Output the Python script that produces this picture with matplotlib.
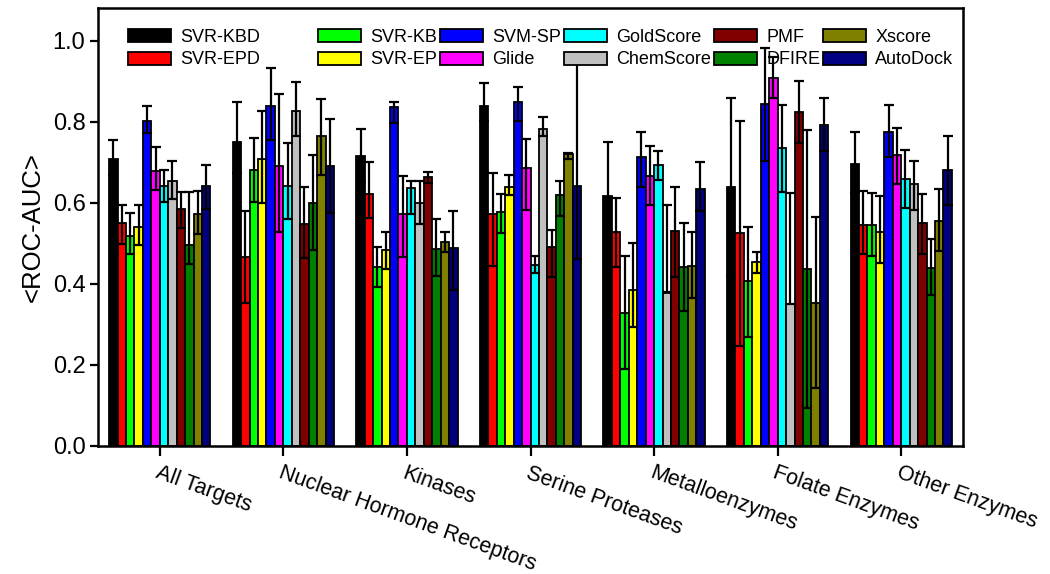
import numpy as np
import matplotlib
matplotlib.use("Agg")
import matplotlib.pyplot as plt
from matplotlib.patches import Patch

plt.rcParams['font.family'] = ['Liberation Sans', 'DejaVu Sans']

categories = ["All Targets", "Nuclear Hormone Receptors", "Kinases", "Serine Proteases",
              "Metalloenzymes", "Folate Enzymes", "Other Enzymes"]

series_names = ["SVR-KBD", "SVR-EPD", "SVR-KB", "SVR-EP", "SVM-SP", "Glide",
                "GoldScore", "ChemScore", "PMF", "DFIRE", "Xscore", "AutoDock"]
series_colors = ["#000000", "#FF0000", "#00FF00", "#FFFF00", "#0000FF", "#FF00FF",
                 "#00FFFF", "#C0C0C0", "#800000", "#008000", "#808000", "#000080"]

# bar values (mean ROC-AUC)
svr_kbd   = [0.709, 0.750, 0.716, 0.838, 0.616, 0.640, 0.696]
svr_epd   = [0.551, 0.466, 0.622, 0.573, 0.528, 0.525, 0.546]
svr_kb    = [0.519, 0.681, 0.441, 0.577, 0.328, 0.406, 0.546]
svr_ep    = [0.540, 0.708, 0.484, 0.638, 0.385, 0.455, 0.529]
svm_sp    = [0.803, 0.840, 0.836, 0.850, 0.713, 0.844, 0.776]
glide     = [0.679, 0.691, 0.572, 0.686, 0.667, 0.908, 0.719]
goldscore = [0.642, 0.642, 0.636, 0.447, 0.694, 0.735, 0.658]
chemscore = [0.655, 0.828, 0.599, 0.783, 0.378, 0.350, 0.647]
pmf       = [0.584, 0.547, 0.663, 0.492, 0.531, 0.825, 0.550]
dfire     = [0.495, 0.599, 0.486, 0.620, 0.443, 0.436, 0.439]
xscore    = [0.572, 0.764, 0.504, 0.720, 0.444, 0.354, 0.556]
autodock  = [0.642, 0.692, 0.488, 0.642, 0.634, 0.793, 0.681]

# error-bar lower ends
svr_kbd_lo   = [0.669, 0.673, 0.651, 0.801, 0.498, 0.420, 0.625]
svr_epd_lo   = [0.499, 0.352, 0.562, 0.445, 0.443, 0.248, 0.474]
svr_kb_lo    = [0.474, 0.601, 0.393, 0.525, 0.189, 0.270, 0.470]
svr_ep_lo    = [0.495, 0.599, 0.437, 0.620, 0.293, 0.428, 0.451]
svm_sp_lo    = [0.772, 0.756, 0.798, 0.802, 0.638, 0.704, 0.714]
glide_lo     = [0.632, 0.528, 0.467, 0.583, 0.595, 0.858, 0.647]
goldscore_lo = [0.603, 0.560, 0.572, 0.426, 0.657, 0.626, 0.587]
chemscore_lo = [0.610, 0.765, 0.547, 0.765, 0.381, 0.350, 0.583]
pmf_lo       = [0.537, 0.465, 0.648, 0.417, 0.418, 0.747, 0.474]
dfire_lo     = [0.450, 0.484, 0.420, 0.568, 0.333, 0.093, 0.373]
xscore_lo    = [0.523, 0.669, 0.480, 0.709, 0.365, 0.142, 0.482]
autodock_lo  = [0.584, 0.576, 0.385, 0.461, 0.579, 0.727, 0.595]

# error-bar upper ends
svr_kbd_hi   = [0.755, 0.848, 0.782, 0.897, 0.751, 0.859, 0.774]
svr_epd_hi   = [0.594, 0.579, 0.701, 0.673, 0.613, 0.802, 0.630]
svr_kb_hi    = [0.575, 0.760, 0.491, 0.622, 0.470, 0.541, 0.624]
svr_ep_hi    = [0.594, 0.828, 0.529, 0.669, 0.502, 0.480, 0.616]
svm_sp_hi    = [0.840, 0.933, 0.848, 0.887, 0.776, 0.982, 0.842]
glide_hi     = [0.737, 0.868, 0.667, 0.757, 0.741, 0.961, 0.784]
goldscore_hi = [0.681, 0.747, 0.655, 0.469, 0.729, 0.842, 0.731]
chemscore_hi = [0.704, 0.899, 0.655, 0.812, 0.595, 0.624, 0.704]
pmf_hi       = [0.626, 0.640, 0.677, 0.533, 0.640, 0.902, 0.621]
dfire_hi     = [0.626, 0.719, 0.560, 0.653, 0.551, 0.780, 0.510]
xscore_hi    = [0.630, 0.857, 0.528, 0.723, 0.527, 0.566, 0.634]
autodock_hi  = [0.693, 0.807, 0.579, 0.948, 0.702, 0.858, 0.765]

values = [svr_kbd, svr_epd, svr_kb, svr_ep, svm_sp, glide, goldscore, chemscore,
          pmf, dfire, xscore, autodock]
lows = [svr_kbd_lo, svr_epd_lo, svr_kb_lo, svr_ep_lo, svm_sp_lo, glide_lo, goldscore_lo,
        chemscore_lo, pmf_lo, dfire_lo, xscore_lo, autodock_lo]
highs = [svr_kbd_hi, svr_epd_hi, svr_kb_hi, svr_ep_hi, svm_sp_hi, glide_hi, goldscore_hi,
         chemscore_hi, pmf_hi, dfire_hi, xscore_hi, autodock_hi]

y_ticks = [0.0, 0.2, 0.4, 0.6, 0.8, 1.0]

fig = plt.figure(figsize=(10.5, 5.74), dpi=100)
ax = fig.add_axes([98 / 1050, 1 - 446 / 574, (963 - 98) / 1050, (446 - 8) / 574])

n = len(series_names)
bw = 0.0683
x = np.arange(len(categories))
for i, (name, col) in enumerate(zip(series_names, series_colors)):
    xs = x + (i - (n - 1) / 2) * bw
    ax.bar(xs, values[i], width=bw, color=col, edgecolor="black", linewidth=1.3, zorder=2)

for i in range(n):
    xs = x + (i - (n - 1) / 2) * bw
    lo = np.array(lows[i]); hi = np.array(highs[i])
    mid = (lo + hi) / 2
    ax.errorbar(xs, mid, yerr=(hi - lo) / 2, fmt="none", ecolor="black",
                elinewidth=1.6, capsize=3.4, capthick=1.6, zorder=3)

ax.set_xlim(-0.5, 6.5)
ax.set_ylim(0, 1.081)
ax.set_yticks(y_ticks)
ax.set_yticklabels([f"{t:.1f}" for t in y_ticks], fontsize=17)
ax.set_xticks(x)
ax.set_xticklabels(categories, fontsize=15.5, rotation=-20, ha="left", va="top",
                   rotation_mode="anchor")
ax.tick_params(axis="x", direction="out", length=7, width=1.6, pad=5)
ax.tick_params(axis="y", direction="out", length=6, width=1.6, pad=3)
for sp in ax.spines.values():
    sp.set_linewidth(1.8)
ax.set_ylabel("<ROC-AUC>", fontsize=18.5, labelpad=6)

handles = [Patch(facecolor=c, edgecolor="black", linewidth=1.3) for c in series_colors]
common = dict(frameon=False, fontsize=13, handlelength=2.4, handleheight=0.75,
              handletextpad=0.5, labelspacing=0.3, borderpad=0, borderaxespad=0,
              loc="upper left")
leg1 = fig.legend(handles[:2], series_names[:2], ncol=1,
                  bbox_to_anchor=(128 / 1050, 1 - 29 / 574), **common)
leg2 = fig.legend(handles[2:], series_names[2:], ncol=5, columnspacing=0.15,
                  bbox_to_anchor=(318 / 1050, 1 - 29 / 574), **common)

fig.savefig("out.png", dpi=100)
